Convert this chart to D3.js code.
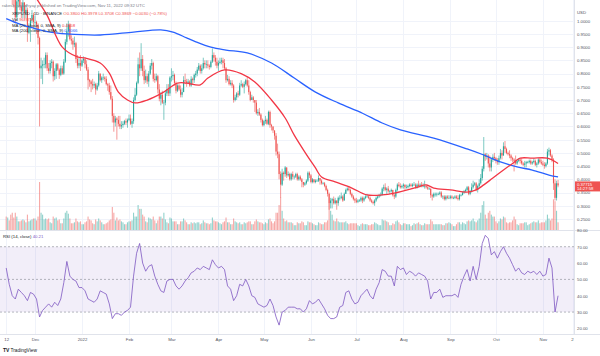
<!DOCTYPE html>
<html><head><meta charset="utf-8">
<script src="https://cdn.jsdelivr.net/npm/d3@7"></script>
<style>
body{margin:0;background:#fff}
svg{display:block;font-family:"Liberation Sans",Arial,sans-serif}
</style>
</head><body>
<svg id="c" width="600" height="356"></svg>
<script>
const startDate = "2021-11-12";
const closes = [
1.205,1.234,1.215,1.168,1.100,1.087,1.013,1.073,1.085,1.054,1.035,1.069,1.030,1.041,0.955,0.978,1.002,1.022,0.995,
0.995,0.985,0.935,0.820,0.830,0.835,0.835,0.870,0.820,0.810,0.840,0.845,0.790,0.810,0.835,0.815,0.795,0.820,0.800,0.845,0.920,0.960,0.985,0.930,0.925,0.910,0.915,0.855,0.830,0.840,0.830,
0.850,0.855,0.835,0.815,0.775,0.770,0.760,0.755,0.760,0.740,0.755,0.800,0.775,0.785,0.785,0.780,0.760,0.755,0.730,0.705,0.640,0.615,0.630,0.625,0.610,0.600,0.605,0.610,0.620,0.615,0.625,
0.630,0.610,0.620,0.700,0.720,0.765,0.835,0.820,0.855,0.810,0.775,0.790,0.770,0.800,0.830,0.840,0.780,0.775,0.790,0.740,0.705,0.720,0.690,0.690,0.725,0.740,0.725,0.785,
0.790,0.795,0.765,0.735,0.755,0.740,0.720,0.730,0.775,0.770,0.765,0.770,0.755,0.780,0.775,0.795,0.800,0.815,0.830,0.810,0.820,0.840,0.835,0.835,0.830,0.825,0.845,0.870,0.860,0.845,0.830,
0.840,0.845,0.850,0.840,0.820,0.775,0.780,0.760,0.765,0.755,0.700,0.710,0.725,0.720,0.755,0.760,0.750,0.760,0.775,0.755,0.730,0.700,0.710,0.700,0.690,0.650,0.655,0.645,0.625,0.605,
0.620,0.625,0.610,0.655,0.605,0.600,0.585,0.565,0.505,0.495,0.420,0.380,0.425,0.420,0.445,0.415,0.420,0.400,0.420,0.410,0.410,0.420,0.400,0.410,0.400,0.390,0.380,0.385,0.395,0.425,0.415,
0.390,0.400,0.390,0.395,0.395,0.405,0.395,0.385,0.385,0.375,0.360,0.345,0.310,0.320,0.325,0.310,0.320,0.310,0.330,0.330,0.335,0.320,0.345,0.360,0.365,0.360,0.345,0.335,0.325,0.320,
0.315,0.320,0.320,0.330,0.320,0.330,0.335,0.335,0.330,0.320,0.315,0.310,0.320,0.330,0.335,0.340,0.340,0.365,0.370,0.360,0.365,0.355,0.355,0.360,0.340,0.335,0.360,0.380,0.375,0.370,0.375,
0.380,0.370,0.370,0.375,0.380,0.375,0.380,0.380,0.370,0.380,0.375,0.380,0.375,0.375,0.375,0.370,0.365,0.365,0.340,0.335,0.345,0.345,0.345,0.345,0.350,0.335,0.335,0.325,0.335,0.330,0.330,
0.335,0.330,0.330,0.335,0.330,0.325,0.340,0.340,0.350,0.355,0.360,0.370,0.345,0.355,0.370,0.380,0.385,0.360,0.375,0.385,0.405,0.440,0.495,0.485,0.490,0.460,0.445,0.475,0.485,0.480,
0.470,0.465,0.480,0.500,0.490,0.525,0.515,0.500,0.495,0.490,0.480,0.475,0.470,0.460,0.470,0.475,0.470,0.460,0.455,0.460,0.465,0.465,0.470,0.460,0.465,0.470,0.455,0.460,0.475,0.465,0.460,
0.455,0.450,0.460,0.505,0.510,0.490,0.475,0.385,0.330,0.385,0.377];
const highs = [
1.235,1.250,1.240,1.245,1.170,1.110,1.100,1.080,1.090,1.090,1.070,1.080,1.070,1.060,1.050,0.990,1.010,1.040,1.030,
1.020,1.000,0.990,0.940,0.860,0.850,0.860,0.880,0.880,0.840,0.850,0.855,0.850,0.820,0.840,0.840,0.820,0.830,0.830,0.855,0.930,0.990,1.000,0.990,0.945,0.935,0.940,0.920,0.870,0.860,0.870,
0.855,0.865,0.860,0.850,0.825,0.780,0.775,0.780,0.770,0.765,0.765,0.810,0.800,0.790,0.800,0.790,0.790,0.765,0.765,0.755,0.715,0.650,0.640,0.635,0.640,0.640,0.620,0.620,0.625,0.630,0.630,
0.645,0.645,0.630,0.710,0.745,0.770,0.860,0.880,0.915,0.870,0.830,0.815,0.800,0.810,0.840,0.855,0.845,0.800,0.800,0.795,0.760,0.730,0.735,0.700,0.735,0.760,0.760,0.790,
0.820,0.810,0.800,0.770,0.760,0.760,0.755,0.745,0.790,0.800,0.780,0.780,0.775,0.790,0.785,0.800,0.810,0.825,0.840,0.835,0.835,0.860,0.850,0.850,0.850,0.835,0.850,0.895,0.880,0.870,0.860,
0.850,0.860,0.860,0.860,0.855,0.825,0.795,0.790,0.775,0.775,0.760,0.720,0.730,0.735,0.765,0.775,0.765,0.770,0.780,0.790,0.775,0.735,0.720,0.715,0.700,0.700,0.665,0.670,0.650,0.630,
0.625,0.640,0.630,0.660,0.660,0.610,0.600,0.585,0.575,0.535,0.505,0.430,0.440,0.430,0.450,0.445,0.430,0.425,0.425,0.430,0.415,0.425,0.425,0.415,0.415,0.405,0.390,0.390,0.400,0.430,0.430,
0.420,0.405,0.400,0.400,0.400,0.415,0.405,0.400,0.390,0.390,0.380,0.365,0.350,0.330,0.330,0.335,0.330,0.320,0.335,0.340,0.350,0.340,0.350,0.365,0.370,0.375,0.365,0.350,0.340,0.330,
0.330,0.325,0.325,0.335,0.335,0.335,0.340,0.345,0.340,0.335,0.325,0.320,0.325,0.335,0.340,0.345,0.350,0.370,0.380,0.385,0.370,0.375,0.360,0.365,0.360,0.345,0.365,0.385,0.390,0.385,0.380,
0.385,0.380,0.380,0.380,0.385,0.385,0.385,0.390,0.385,0.385,0.395,0.385,0.390,0.385,0.395,0.380,0.380,0.370,0.365,0.345,0.350,0.350,0.350,0.350,0.355,0.355,0.340,0.340,0.340,0.340,0.340,
0.340,0.340,0.335,0.340,0.340,0.340,0.345,0.345,0.355,0.360,0.365,0.375,0.375,0.360,0.385,0.395,0.390,0.390,0.380,0.400,0.420,0.450,0.560,0.500,0.500,0.495,0.490,0.480,0.495,0.500,
0.485,0.480,0.490,0.515,0.510,0.540,0.545,0.520,0.505,0.510,0.495,0.485,0.480,0.490,0.475,0.480,0.480,0.480,0.465,0.470,0.470,0.470,0.475,0.475,0.470,0.480,0.475,0.465,0.480,0.480,0.475,
0.470,0.465,0.465,0.515,0.520,0.515,0.495,0.480,0.400,0.395,0.398];
const lows = [
1.175,1.190,1.190,1.160,1.060,1.050,0.990,1.000,1.050,1.040,1.010,1.010,1.000,1.010,0.920,0.950,0.920,0.990,0.970,
0.960,0.950,0.910,0.600,0.780,0.760,0.820,0.820,0.810,0.800,0.800,0.820,0.770,0.775,0.780,0.810,0.780,0.790,0.795,0.795,0.840,0.910,0.940,0.925,0.910,0.890,0.900,0.840,0.820,0.820,0.810,
0.825,0.840,0.820,0.810,0.740,0.750,0.730,0.740,0.745,0.720,0.735,0.750,0.770,0.765,0.775,0.770,0.755,0.735,0.720,0.700,0.615,0.580,0.600,0.550,0.600,0.590,0.590,0.595,0.605,0.605,0.595,
0.620,0.605,0.595,0.610,0.695,0.715,0.760,0.790,0.810,0.790,0.760,0.765,0.760,0.750,0.795,0.815,0.770,0.765,0.770,0.725,0.695,0.680,0.685,0.625,0.680,0.715,0.715,0.715,
0.770,0.775,0.755,0.725,0.730,0.735,0.710,0.710,0.730,0.760,0.750,0.760,0.750,0.750,0.760,0.765,0.785,0.790,0.810,0.800,0.800,0.815,0.820,0.820,0.820,0.815,0.820,0.840,0.845,0.830,0.820,
0.810,0.835,0.835,0.820,0.815,0.765,0.770,0.755,0.755,0.745,0.690,0.695,0.700,0.710,0.715,0.750,0.745,0.725,0.755,0.750,0.720,0.695,0.700,0.690,0.655,0.645,0.640,0.640,0.615,0.600,
0.600,0.610,0.605,0.605,0.595,0.585,0.575,0.550,0.490,0.480,0.400,0.330,0.375,0.395,0.410,0.405,0.410,0.395,0.395,0.400,0.400,0.405,0.395,0.395,0.395,0.370,0.370,0.375,0.380,0.390,0.405,
0.385,0.385,0.385,0.385,0.390,0.390,0.380,0.380,0.380,0.370,0.355,0.335,0.285,0.290,0.290,0.305,0.305,0.285,0.300,0.320,0.325,0.315,0.320,0.345,0.355,0.355,0.340,0.330,0.320,0.310,
0.310,0.310,0.315,0.315,0.310,0.315,0.325,0.330,0.325,0.315,0.310,0.305,0.300,0.315,0.325,0.330,0.335,0.340,0.355,0.355,0.345,0.350,0.345,0.350,0.335,0.325,0.330,0.355,0.370,0.365,0.365,
0.365,0.360,0.365,0.365,0.370,0.370,0.370,0.375,0.365,0.365,0.370,0.370,0.370,0.370,0.365,0.365,0.360,0.360,0.330,0.320,0.330,0.335,0.335,0.340,0.340,0.330,0.325,0.320,0.320,0.325,0.325,
0.325,0.325,0.325,0.325,0.325,0.320,0.320,0.335,0.340,0.345,0.350,0.355,0.340,0.340,0.350,0.365,0.375,0.355,0.350,0.370,0.380,0.395,0.430,0.470,0.475,0.445,0.430,0.430,0.465,0.470,
0.460,0.455,0.455,0.475,0.475,0.490,0.500,0.495,0.490,0.480,0.470,0.465,0.430,0.455,0.455,0.465,0.460,0.455,0.450,0.445,0.445,0.460,0.460,0.455,0.455,0.460,0.450,0.445,0.455,0.460,0.455,
0.450,0.440,0.445,0.455,0.490,0.485,0.465,0.360,0.320,0.320,0.370];
const firstOpen = 1.220;
const volumes = [
700,650,500,800,900,650,900,700,450,450,500,550,500,400,800,450,500,550,600,
600,500,700,2500,900,800,550,600,550,600,400,350,700,600,650,500,550,350,350,600,900,1000,850,600,350,350,400,600,450,400,450,
300,300,400,450,700,550,500,350,300,550,450,600,500,400,300,300,350,400,500,550,1200,900,500,650,500,550,450,400,300,300,400,
450,450,500,900,700,700,1300,1100,1100,800,700,450,400,650,600,550,700,500,350,500,700,700,600,900,550,400,350,650,
600,450,450,450,300,300,450,450,600,500,400,300,300,400,350,400,350,400,400,300,350,500,400,350,350,300,350,650,500,450,450,
400,350,300,400,450,650,400,400,300,300,600,450,400,350,400,300,300,400,350,400,450,450,300,300,450,550,450,400,400,350,
300,400,350,550,600,450,350,450,900,900,1300,1700,1000,600,450,500,400,400,400,350,250,250,400,350,350,450,400,250,250,450,400,
400,350,300,250,250,400,350,300,300,400,400,500,1400,1000,800,500,450,600,450,400,400,400,400,450,350,300,350,350,350,350,
350,250,200,300,350,300,300,300,250,250,300,300,400,350,300,250,250,550,500,500,450,400,250,250,350,300,450,500,400,300,250,
350,350,300,300,300,200,250,350,300,350,400,300,250,250,350,300,300,300,550,450,300,300,300,300,300,300,250,250,350,350,400,
350,300,200,200,300,400,400,300,400,350,300,450,500,450,500,600,450,400,500,600,900,1300,1500,800,600,900,1000,800,700,700,
450,350,450,600,550,700,650,400,350,400,400,500,700,550,300,250,350,350,350,400,400,250,300,350,400,450,400,400,500,350,400,
400,400,500,800,600,500,600,1600,1500,1000,400];
const rsiStepDays = 2;
const rsi = [
57,47,40,38,44,42,40,37,42,41,
38,27,31,33,35,33,36,34,38,48,
61,52,50,49,45,45,43,38,37,36,
38,43,42,41,35,26,29,29,28,30,
31,33,52,66,72,60,55,58,59,52,
47,43,42,49,50,50,46,44,46,49,
51,54,55,57,56,58,57,56,62,59,
57,58,56,46,44,37,40,47,46,50,
46,40,39,35,34,33,34,38,34,27,
22,30,31,33,33,33,32,32,30,32,
37,35,36,38,35,32,28,26,26,27,
33,34,42,43,38,35,36,40,42,44,
40,38,44,48,56,55,52,52,46,58,
56,57,53,55,54,52,54,53,52,49,
38,42,42,44,39,40,40,40,41,39,
47,52,56,49,58,50,58,72,77,75,
65,67,63,67,70,66,63,59,55,57,
54,53,55,54,55,53,55,52,53,63,
57,30,40];
const ma20 = [["2021-11-12",1.22],["2021-11-22",1.17],["2021-12-03",1.075],["2021-12-09",1.02],["2021-12-19",0.90],["2021-12-29",0.863],["2022-01-03",0.859],["2022-01-13",0.84],["2022-01-19",0.802],["2022-01-25",0.73],["2022-01-31",0.70],["2022-02-05",0.689],["2022-02-13",0.70],["2022-02-23",0.727],["2022-03-05",0.764],["2022-03-11",0.764],["2022-03-20",0.757],["2022-03-25",0.783],["2022-04-05",0.814],["2022-04-16",0.80],["2022-04-25",0.768],["2022-05-06",0.70],["2022-05-15",0.632],["2022-05-21",0.567],["2022-05-28",0.503],["2022-06-04",0.443],["2022-06-08",0.409],["2022-06-17",0.39],["2022-06-28",0.367],["2022-07-08",0.341],["2022-07-18",0.341],["2022-07-26",0.348],["2022-08-10",0.37],["2022-08-16",0.379],["2022-08-21",0.367],["2022-09-01",0.36],["2022-09-12",0.352],["2022-09-18",0.36],["2022-09-23",0.379],["2022-09-29",0.405],["2022-10-06",0.435],["2022-10-12",0.46],["2022-10-17",0.48],["2022-10-25",0.48],["2022-11-04",0.48],["2022-11-11",0.46]];
const ma200 = [["2021-11-12",1.008],["2021-11-21",0.987],["2021-11-30",0.972],["2021-12-11",0.957],["2021-12-22",0.95],["2022-01-13",0.946],["2022-02-04",0.957],["2022-02-22",0.965],["2022-03-02",0.957],["2022-03-11",0.935],["2022-03-16",0.923],["2022-03-27",0.90],["2022-04-06",0.889],["2022-04-20",0.878],["2022-05-06",0.84],["2022-05-21",0.783],["2022-06-04",0.73],["2022-06-19",0.689],["2022-07-05",0.65],["2022-07-18",0.613],["2022-07-30",0.587],["2022-08-21",0.556],["2022-09-12",0.515],["2022-09-23",0.492],["2022-10-04",0.466],["2022-10-15",0.447],["2022-10-25",0.435],["2022-11-05",0.416],["2022-11-11",0.409]];
const priceTicks = [1.0,0.95,0.9,0.85,0.8,0.75,0.7,0.65,0.6,0.55,0.5,0.45,0.4,0.35,0.3,0.25];
const rsiTicks = [80,70,60,50,40,30,20];
const rsiBands = [70,50,30];
const timeTicks = ["2021-11-12","2021-12-01","2022-01-01","2022-02-01","2022-03-01","2022-04-01","2022-05-01","2022-06-01","2022-07-01","2022-08-01","2022-09-01","2022-10-01","2022-11-01","2022-11-21"];
const timeLabels = ["12","Dec","2022","Feb","Mar","Apr","May","Jun","Jul","Aug","Sep","Oct","Nov","21"];
const legendTitle = "rakesh_upadhyay published on TradingView.com, Nov 11, 2022 09:32 UTC";
const legendSymbol = "XRPUSD · 1D · BINANCE";
const legendOHLC = "O0.3800  H0.3978  L0.3708  C0.3869  −0.0030 (−0.78%)";
const legendVol = ["Vol", "96.97M"];
const legendMA20 = ["MA (20, close, 0, SMA, 9)", "0.4558"];
const legendMA200 = ["MA (200, close, 0, SMA, 9)", "0.4066"];
const legendRSI = ["RSI (14, close)", "40.21"];
const lastPriceLabel = ["0.37715", "14:27:58"];

// ---------- drawing ----------
const W = 600, H = 356, plotR = 574;
const pTop = 0, pBot = 230, rTop = 231, rBot = 334;
const UP = "#26a69a", DN = "#ef5350";
const svg = d3.select("#c");
const parse = d3.utcParse("%Y-%m-%d");
const t0 = parse(startDate);
const dayAt = d => new Date(t0.getTime() + d * 864e5);

const x = d3.scaleUtc().domain([dayAt(-4.09), dayAt(374.52)]).range([0, plotR]);
const y = d3.scaleLinear().domain([0.25, 1.0]).range([219, 20.7]);
const yr = d3.scaleLinear().domain([20, 80]).range([328.4, 230.4]);
const vh = d3.scaleLinear().domain([0, 2500]).range([0, 48]);

const bars = closes.map((c, i) => ({
  date: d3.utcDay.offset(t0, i),
  o: i === 0 ? firstOpen : closes[i - 1],
  h: highs[i], l: lows[i], c: c, v: volumes[i]
}));

const defs = svg.append("defs");
defs.append("clipPath").attr("id", "cp").append("rect").attr("x", 0).attr("y", pTop).attr("width", plotR).attr("height", pBot - pTop);
defs.append("clipPath").attr("id", "cr").append("rect").attr("x", 0).attr("y", rTop).attr("width", plotR).attr("height", rBot - rTop);

// grid
const grid = svg.append("g").attr("stroke", "#f0f3fa").attr("stroke-width", 1);
timeTicks.forEach(s => {
  const gx = Math.round(x(parse(s))) + 0.5;
  if (gx < plotR) grid.append("line").attr("x1", gx).attr("x2", gx).attr("y1", 0).attr("y2", rBot);
});
priceTicks.forEach(p => {
  const gy = Math.round(y(p)) + 0.5;
  grid.append("line").attr("x1", 0).attr("x2", plotR).attr("y1", gy).attr("y2", gy);
});

// price pane
const pg = svg.append("g").attr("clip-path", "url(#cp)");
// volume
pg.append("g").selectAll("rect").data(bars).join("rect")
  .attr("x", d => x(d.date) - 0.55).attr("width", 1.1)
  .attr("y", d => pBot - vh(d.v)).attr("height", d => vh(d.v))
  .attr("fill", d => d.c >= d.o ? UP : DN).attr("opacity", 0.5);
// wicks
pg.append("g").selectAll("line").data(bars).join("line")
  .attr("x1", d => x(d.date)).attr("x2", d => x(d.date))
  .attr("y1", d => y(d.h)).attr("y2", d => y(d.l))
  .attr("stroke", d => d.c >= d.o ? UP : DN).attr("stroke-width", 0.6);
// bodies
pg.append("g").selectAll("rect").data(bars).join("rect")
  .attr("x", d => x(d.date) - 0.55).attr("width", 1.1)
  .attr("y", d => y(Math.max(d.o, d.c)))
  .attr("height", d => Math.max(0.6, Math.abs(y(d.o) - y(d.c))))
  .attr("fill", d => d.c >= d.o ? UP : DN);
// MAs
const maLine = d3.line().x(d => x(parse(d[0]))).y(d => y(d[1])).curve(d3.curveCatmullRom.alpha(0.5));
pg.append("path").attr("d", maLine(ma200)).attr("fill", "none").attr("stroke", "#2962ff").attr("stroke-width", 1.3);
pg.append("path").attr("d", maLine(ma20)).attr("fill", "none").attr("stroke", "#f23645").attr("stroke-width", 1.3);

// separators
svg.append("line").attr("x1", 0).attr("x2", W).attr("y1", pBot + 0.5).attr("y2", pBot + 0.5).attr("stroke", "#e0e3eb");
svg.append("line").attr("x1", 0).attr("x2", W).attr("y1", rBot + 0.5).attr("y2", rBot + 0.5).attr("stroke", "#e0e3eb");
svg.append("line").attr("x1", plotR + 0.5).attr("x2", plotR + 0.5).attr("y1", 0).attr("y2", rBot).attr("stroke", "#e0e3eb");

// RSI pane
const rg = svg.append("g").attr("clip-path", "url(#cr)");
rg.append("rect").attr("x", 0).attr("width", plotR).attr("y", yr(70)).attr("height", yr(30) - yr(70)).attr("fill", "#7e57c2").attr("opacity", 0.1);
rsiBands.forEach(v => {
  rg.append("line").attr("x1", 0).attr("x2", plotR).attr("y1", yr(v)).attr("y2", yr(v))
    .attr("stroke", "#9598a1").attr("stroke-width", 0.7).attr("stroke-dasharray", "2,2");
});
const rsiLine = d3.line().x((v, i) => x(d3.utcDay.offset(t0, i * rsiStepDays))).y(v => yr(v));
rg.append("path").attr("d", rsiLine(rsi)).attr("fill", "none").attr("stroke", "#7e57c2").attr("stroke-width", 0.8);

// axes
const txt = "#50535e";
const ax = svg.append("g").attr("transform", `translate(${plotR + 3},0)`)
  .call(d3.axisRight(y).tickValues(priceTicks).tickFormat(d3.format(".4f")).tickSize(0).tickPadding(0));
ax.select(".domain").remove();
ax.selectAll("text").attr("font-size", 4.3).attr("fill", txt).attr("font-family", "Liberation Sans, Arial");
const axr = svg.append("g").attr("transform", `translate(${plotR + 3},0)`)
  .call(d3.axisRight(yr).tickValues(rsiTicks).tickFormat(d3.format(".2f")).tickSize(0).tickPadding(0));
axr.select(".domain").remove();
axr.selectAll("text").attr("font-size", 4.3).attr("fill", txt).attr("font-family", "Liberation Sans, Arial");
svg.append("text").attr("x", plotR + 3).attr("y", 13.5).attr("font-size", 4.3).attr("fill", txt).text("USD");

const tg = svg.append("g").attr("clip-path", "url(#ct)");
defs.append("clipPath").attr("id", "ct").append("rect").attr("x", 0).attr("y", rBot).attr("width", plotR).attr("height", 20);
const axb = tg.append("g").attr("transform", `translate(0,${rBot})`)
  .call(d3.axisBottom(x).tickValues(timeTicks.map(parse)).tickFormat((d, i) => timeLabels[i]).tickSize(0).tickPadding(4));
axb.select(".domain").remove();
axb.selectAll("text").attr("font-size", 4.3).attr("fill", txt).attr("font-family", "Liberation Sans, Arial");

// last price label
const last = bars[bars.length - 1];
const ly = y(last.c);
svg.append("rect").attr("x", plotR + 1).attr("y", ly - 4).attr("width", W - plotR - 1).attr("height", 10).attr("fill", DN);
svg.append("text").attr("x", plotR + 3).attr("y", ly + 0.5).attr("font-size", 4.2).attr("fill", "#fff").text(lastPriceLabel[0]);
svg.append("text").attr("x", plotR + 3).attr("y", ly + 5).attr("font-size", 4.2).attr("fill", "#fff").text(lastPriceLabel[1]);

// legends
const lg = svg.append("g").attr("font-size", 4.3);
lg.append("text").attr("x", 2).attr("y", 6.5).attr("fill", "#787b86").text(legendTitle);
const l1 = lg.append("text").attr("x", 12).attr("y", 15);
l1.append("tspan").attr("fill", "#131722").text(legendSymbol + "   ");
l1.append("tspan").attr("fill", DN).text(legendOHLC);
const l2 = lg.append("text").attr("x", 12).attr("y", 20.5);
l2.append("tspan").attr("fill", "#131722").text(legendVol[0] + "   ");
l2.append("tspan").attr("fill", DN).text(legendVol[1]);
const l3 = lg.append("text").attr("x", 12).attr("y", 26.5);
l3.append("tspan").attr("fill", "#131722").text(legendMA20[0] + "  ");
l3.append("tspan").attr("fill", "#f23645").text(legendMA20[1]);
const l4 = lg.append("text").attr("x", 12).attr("y", 32);
l4.append("tspan").attr("fill", "#131722").text(legendMA200[0] + "  ");
l4.append("tspan").attr("fill", "#2962ff").text(legendMA200[1]);
const l5 = lg.append("text").attr("x", 3).attr("y", 238);
l5.append("tspan").attr("fill", "#131722").text(legendRSI[0] + "  ");
l5.append("tspan").attr("fill", "#7e57c2").text(legendRSI[1]);

// TradingView logo
const logo = svg.append("g").attr("transform", "translate(3,352)");
logo.append("text").attr("x", 0).attr("y", 0).attr("font-size", 5).attr("font-weight", "bold").attr("fill", "#131722").text("TV");
logo.append("text").attr("x", 7.5).attr("y", 0).attr("font-size", 4.8).attr("fill", "#131722").text("TradingView");
</script>
</body></html>
